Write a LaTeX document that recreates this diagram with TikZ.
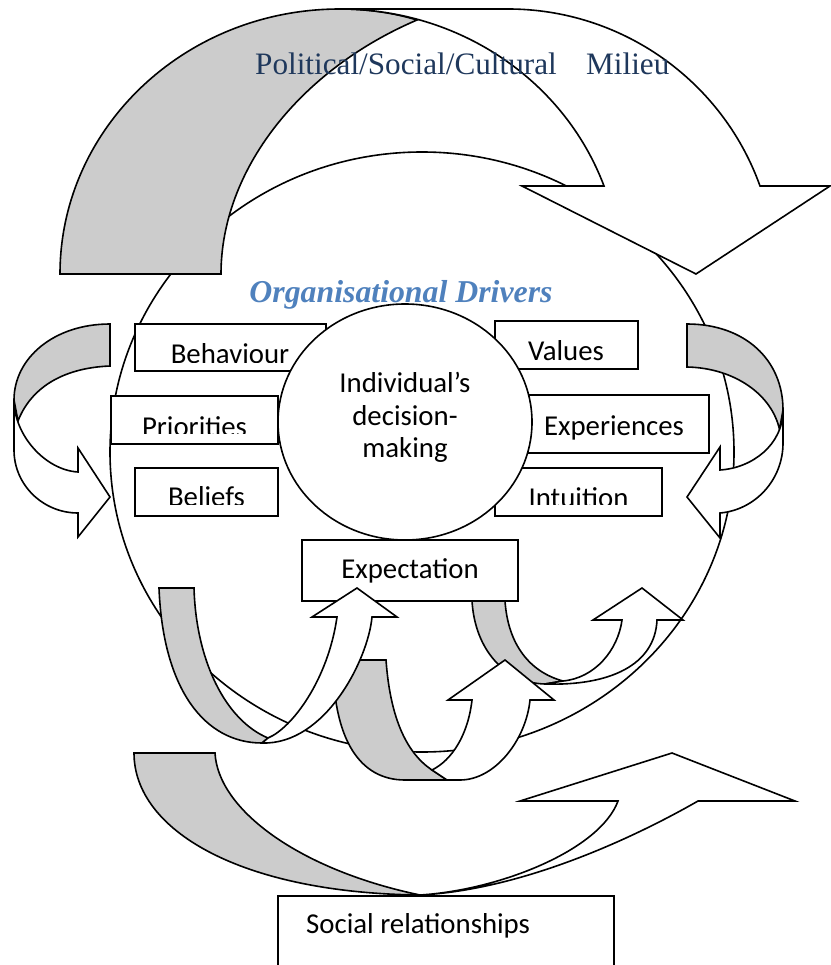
\documentclass[tikz,border=0pt]{standalone}
\usepackage{fontspec}
\usetikzlibrary{shapes.geometric}
\newfontfamily\carl{Carlito}
\newfontfamily\lserif{Liberation Serif}
\definecolor{bandgray}{RGB}{204,204,204}
\definecolor{milieu}{RGB}{31,56,92}
\definecolor{orgblue}{RGB}{79,129,189}
\tikzset{
  ln/.style={draw=black, line width=1.6pt, line join=miter},
  gband/.style={ln, fill=bandgray},
  wband/.style={ln, fill=white},
  tbox/.style={ln, fill=white, rectangle, inner sep=0pt},
  btxt/.style={font=\carl\fontsize{28.8}{32}\selectfont, anchor=base, inner sep=0pt},
}
\begin{document}
\begin{tikzpicture}[x=1pt,y=-1pt]
\useasboundingbox (0,0) rectangle (830,965);
% big organisational circle
\node[ln, ellipse, minimum width=624pt, minimum height=600pt, inner sep=0pt] (org) at (422,452) {};

% top curved arrow
\path[gband] (221,274) -- (60,274) .. controls (60,128) and (185,9) .. (340,9)
  .. controls (368,9) and (394,13) .. (417,20) .. controls (300,70) and (221,170) .. (221,274) -- cycle;
\path[wband] (340,9) -- (508,9) .. controls (621,9) and (722,80) .. (760,186) -- (830,186) -- (696,274)
  -- (522,186) -- (604,186) .. controls (564,80) and (459,9) .. (340,9) -- cycle;

% left curved arrow
\path[gband] (110,324) .. controls (54,324) and (14,358) .. (14,400) -- (18,421)
  .. controls (30,390) and (60,368) .. (110,366) -- cycle;
\path[wband] (14,400) -- (14,450) .. controls (14,485) and (43,513) .. (78,513) -- (78,537) -- (110,497)
  -- (78,448) -- (78,472) .. controls (45,470) and (14,435) .. (14,400) -- cycle;

% right curved arrow
\path[gband] (687,324) .. controls (745,324) and (783,360) .. (783,410) -- (779.5,429.5)
  .. controls (772,395) and (735,368) .. (687,367) -- cycle;
\path[wband] (783,410) -- (783,443) .. controls (783,480) and (755,510) .. (720,513) -- (720,538) -- (687,497)
  -- (720,447) -- (720,470) .. controls (752,468) and (783,445) .. (783,410) -- cycle;

% driver boxes
\node[tbox, minimum width=191pt, minimum height=47pt] (beh) at (230.5,347.5) {};
\node[tbox, minimum width=143pt, minimum height=48pt] (val) at (566.5,345) {};
\node[tbox, minimum width=167pt, minimum height=48pt] (pri) at (194.5,420) {};
\node[tbox, minimum width=185pt, minimum height=58pt] (exp) at (616.5,424) {};
\node[tbox, minimum width=143pt, minimum height=48pt] (bel) at (206.5,492) {};
\node[tbox, minimum width=167pt, minimum height=48pt] (int) at (578.5,492) {};
\begin{scope}
  \clip (135,324) rectangle (326,362);
  \node[btxt] (tbeh) at (230,363.5) {Behaviour};
\end{scope}
\node[btxt] (tval) at (566,360) {Values};
\begin{scope}
  \clip (111,396) rectangle (278,433.5);
  \node[btxt] (tpri) at (194.5,436.5) {Priorities};
\end{scope}
\node[btxt] (texp) at (614,435) {Experiences};
\begin{scope}
  \clip (135,468) rectangle (278,504);
  \node[btxt] (tbel) at (206.5,506.5) {Beliefs};
\end{scope}
\begin{scope}
  \clip (495,468) rectangle (662,504);
  \node[btxt] (tint) at (578.5,507.5) {Intuition};
\end{scope}

% central ellipse
\node[ln, fill=white, ellipse, minimum width=254pt, minimum height=236pt, inner sep=0pt] (ind) at (405,422) {};
\node[btxt] (ind1) at (405,392.5) {Individual’s};
\node[btxt] (ind2) at (405,425) {decision-};
\node[btxt] (ind3) at (405,457) {making};

% right lower U arrow (under Expectation box)
\path[gband] (472,601) -- (505,601) .. controls (508,645) and (530,672) .. (563,681) -- (545,684)
  .. controls (505,683) and (475,650) .. (472,601) -- cycle;
\path[wband] (545,684) .. controls (610,686) and (655,665) .. (657,620) -- (683,620) -- (642,588) -- (593,620)
  -- (622,620) .. controls (618,650) and (595,678) .. (563,681) -- cycle;

% Expectation box
\node[tbox, minimum width=216pt, minimum height=61pt] (expect) at (410,570.5) {};
\node[btxt] (texpect) at (410,578) {Expectation};

% middle U arrow
\path[gband] (333,660) -- (386,660) .. controls (390,715) and (405,752) .. (432,770) -- (447,780) -- (405,780)
  .. controls (360,780) and (333,740) .. (333,660) -- cycle;
\path[wband] (447,780) -- (460,780) .. controls (495,780) and (526,740) .. (530,700) -- (554,700) -- (505,660) -- (448,700)
  -- (472,700) .. controls (468,735) and (452,760) .. (432,770) -- cycle;

% left U arrow
\path[gband] (159,588) -- (194,588) .. controls (196,660) and (225,720) .. (268,738) -- (262,743)
  .. controls (205,743) and (163,690) .. (159,588) -- cycle;
\path[wband] (262,743) .. controls (325,745) and (368,660) .. (372,617) -- (397,617) -- (357,588) -- (312,617)
  -- (337,617) .. controls (328,680) and (292,728) .. (268,738) -- cycle;

% bottom curved arrow
\path[gband] (134,753) -- (215,753) .. controls (218,810) and (300,870) .. (420,895)
  .. controls (240,893) and (134,830) .. (134,753) -- cycle;
\path[wband] (420,895) .. controls (520,890) and (630,840) .. (698,801) -- (795,801) -- (672,753) -- (520,801)
  -- (618,801) .. controls (600,850) and (500,890) .. (420,895) -- cycle;

% Social relationships box
\node[tbox, minimum width=336pt, minimum height=80pt] (soc) at (446,936) {};
\node[btxt, anchor=base west] (tsoc) at (306,933) {Social relationships};

% titles
\node[anchor=base west, inner sep=0pt, text=milieu, font=\lserif\fontsize{31.2}{34}\selectfont] (pol) at (255,75) {Political/Social/Cultural};
\node[anchor=base west, inner sep=0pt, text=milieu, font=\lserif\fontsize{31.2}{34}\selectfont] (mil) at (586,75) {Milieu};
\node[anchor=base, inner sep=0pt, text=orgblue, font=\lserif\bfseries\itshape\fontsize{31.8}{34}\selectfont] (drv) at (401,302) {Organisational Drivers};
\end{tikzpicture}
\end{document}
